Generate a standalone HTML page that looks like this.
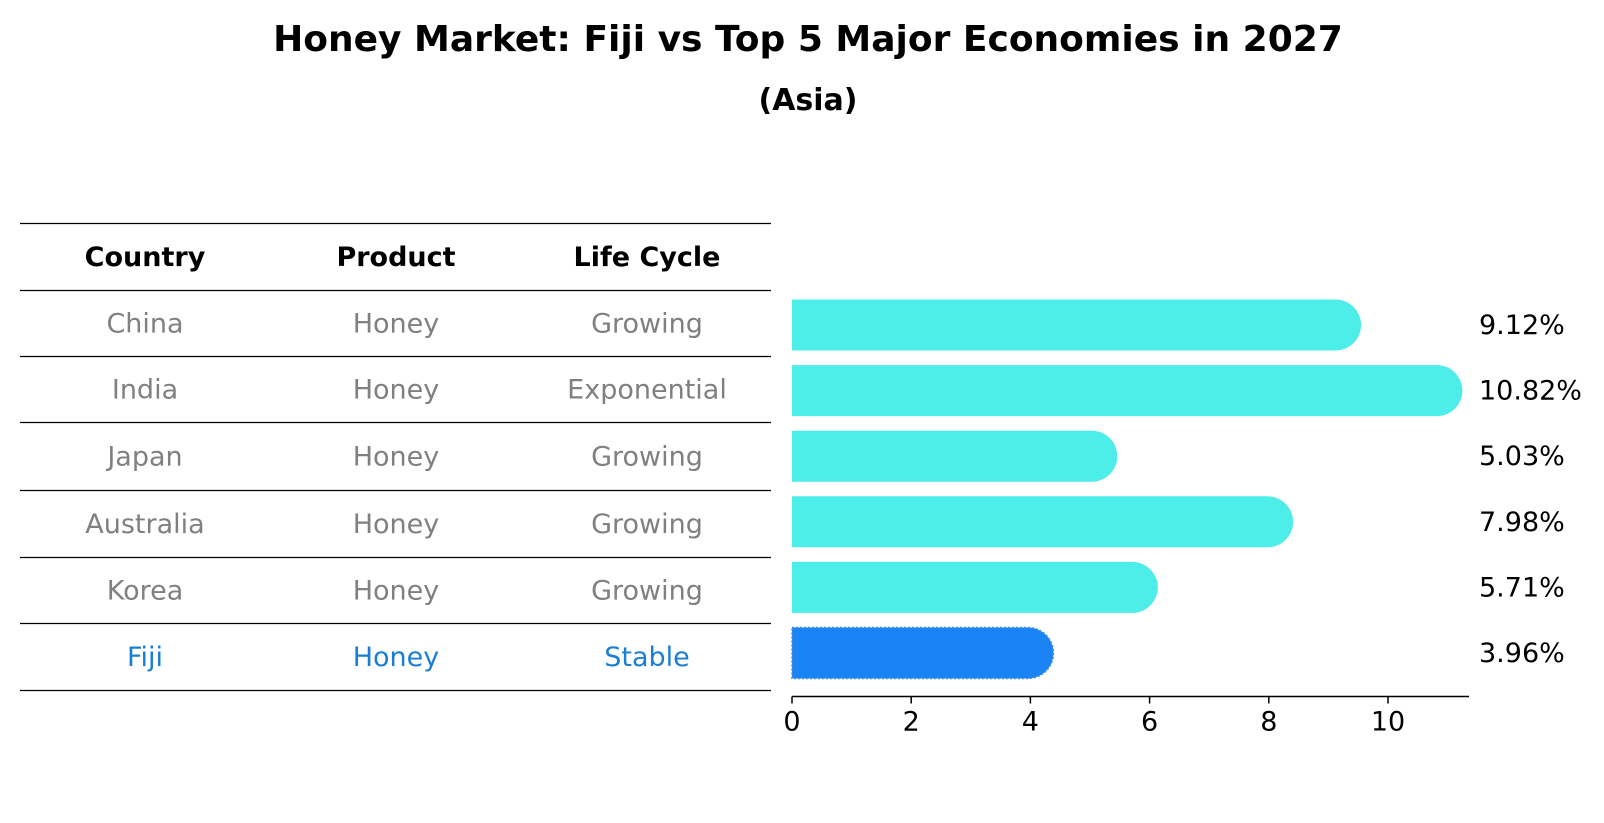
<!DOCTYPE html>
<html><head><meta charset="utf-8"><style>
body{margin:0;background:#fff;}
svg{display:block;font-family:"DejaVu Sans","Liberation Sans",sans-serif;}
</style></head><body>
<svg id="chart" width="1604" height="823" viewBox="0 0 1604 823" xmlns="http://www.w3.org/2000/svg">
<text x="808" y="51" text-anchor="middle" font-size="36" font-weight="bold">Honey Market: Fiji vs Top 5 Major Economies in 2027</text>
<text x="808" y="110" text-anchor="middle" font-size="30" font-weight="bold">(Asia)</text>
<g id="table"></g>
<g id="bars"></g>
</svg>
<script>
const countries = ["China","India","Japan","Australia","Korea","Fiji"];
const products = ["Honey","Honey","Honey","Honey","Honey","Honey"];
const lifeCycles = ["Growing","Exponential","Growing","Growing","Growing","Stable"];
const growthValues = [9.12,10.82,5.03,7.98,5.71,3.96];
const valueLabels = ["9.12%","10.82%","5.03%","7.98%","5.71%","3.96%"];
const xTicks = [0,2,4,6,8,10];

const NS="http://www.w3.org/2000/svg";
function mk(tag,attrs,parent){const e=document.createElementNS(NS,tag);for(const k in attrs)e.setAttribute(k,attrs[k]);parent.appendChild(e);return e;}
const table=document.getElementById('table');
const lineYs=[223.5,290.5,356.5,422.5,490.5,557.5,623.5,690.5];
const colX=[145,396,647];
const FS=27;
for(let i=0;i<lineYs.length;i++){
  const l=mk('line',{x1:20,x2:771,y1:lineYs[i],y2:lineYs[i],stroke:'#000','stroke-width':1.2},table);
  
  
}
const headers=["Country","Product","Life Cycle"];
headers.forEach((h,j)=>{
  const t=mk('text',{x:colX[j],y:(lineYs[0]+lineYs[1])/2+9,'text-anchor':'middle','font-size':FS,'font-weight':'bold'},table);
  
  
  t.textContent=h;
});
countries.forEach((c,i)=>{
  const cy=(lineYs[i+1]+lineYs[i+2])/2+9;
  const col=c==="Fiji"?"#1a7fd4":"#808080";
  [c,products[i],lifeCycles[i]].forEach((v,j)=>{
    const t=mk('text',{x:colX[j],y:cy,'text-anchor':'middle','font-size':FS,fill:col},table);
    
    
    t.textContent=v;
  });
});

const bars=document.getElementById('bars');
const x0=792, unit=59.6, axisY=696.5, rowStart=325, rowStep=65.6, barH=51;
const xs=v=>x0+v*unit;
const ys=i=>rowStart+i*rowStep;
growthValues.forEach((v,i)=>{
  const cy=ys(i), r=barH/2, xe=xs(v);
  const fiji=countries[i]==="Fiji";
  const p=mk('path',{d:`M${x0},${cy-r} L${xe},${cy-r} A${r},${r} 0 0 1 ${xe},${cy+r} L${x0},${cy+r} Z`,
    fill:fiji?'#1a84f5':'#4deeea',stroke:fiji?'#4a8fe0':'none','stroke-width':fiji?1.5:0,'stroke-dasharray':fiji?'2,2':'none'},bars);
  
  
  const t=mk('text',{x:1479,y:cy+9,'font-size':FS},bars);
  
  
  t.textContent=valueLabels[i];
});
const ax=mk('line',{x1:x0,x2:1469,y1:axisY,y2:axisY,stroke:'#000','stroke-width':1.5},bars);


xTicks.forEach(v=>{
  const tk=mk('line',{x1:xs(v),x2:xs(v),y1:axisY,y2:axisY+7,stroke:'#000','stroke-width':1.5},bars);
  
  
  const t=mk('text',{x:xs(v),y:axisY+34,'text-anchor':'middle','font-size':FS},bars);
  
  
  t.textContent=v;
});
</script>
</body></html>
